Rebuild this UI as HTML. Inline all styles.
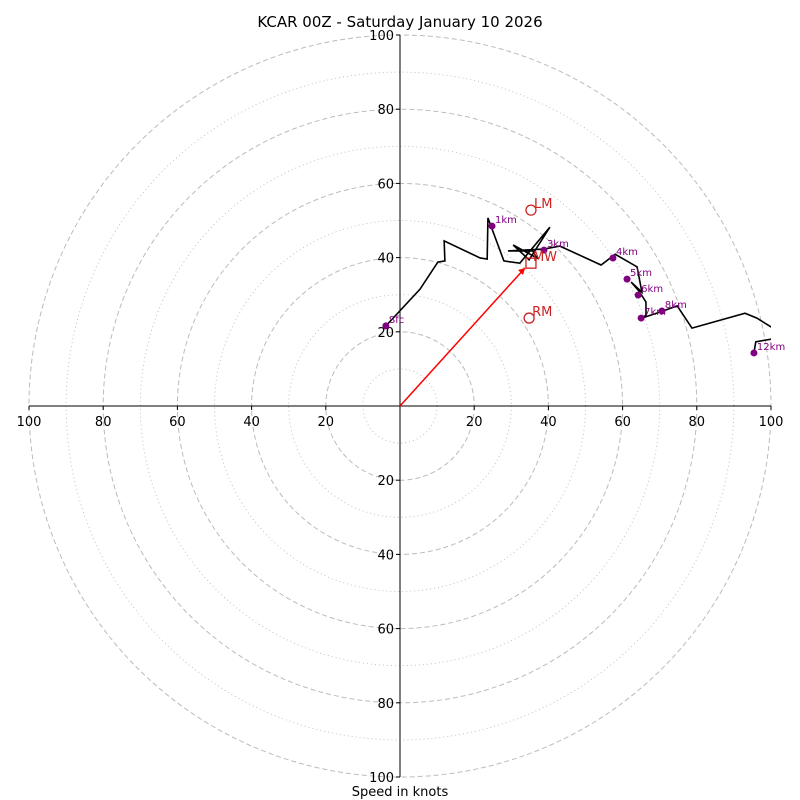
<!DOCTYPE html>
<html><head><meta charset="utf-8"><style>
html,body{margin:0;padding:0;background:#fff}
svg{display:block;font-family:"DejaVu Sans","Liberation Sans",sans-serif}
</style></head><body>
<svg id="c" width="800" height="800" viewBox="0 0 800 800">
<text x="400" y="27" text-anchor="middle" font-size="15">KCAR 00Z - Saturday January 10 2026</text>
<text x="400" y="796" text-anchor="middle" font-size="13">Speed in knots</text>
<defs><clipPath id="clip"><rect x="29" y="35" width="742" height="742"/></clipPath></defs>
<g id="rings"></g><g id="axes"></g><g id="plot" clip-path="url(#clip)"></g><g id="labels"></g>
</svg>
<script>
const ringSpeeds=[10,20,30,40,50,60,70,80,90,100];
const tickValues=[-100,-80,-60,-40,-20,20,40,60,80,100];
const traceU=[-3.8,5.4,10.2,12.1,11.9,21.6,23.5,23.7,28.0,32.3,40.4,34.8,30.5,36.9,35.8,29.1,38.8,43.1,54.2,58.0,63.9,65.2,62.3,64.4,66.3,66.3,65.2,70.9,74.7,78.7,93.0,96.2,100.5,102];
const traceV=[21.6,31.5,38.8,39.1,44.5,39.9,39.6,50.7,39.1,38.5,48.2,39.4,43.4,39.9,41.8,41.8,42.3,43.1,38.0,40.9,37.5,30.7,33.4,31.0,28.0,24.5,23.7,25.6,27.0,21.0,25.0,23.7,21.0,20];
const upperU=[102,100.5,95.9,95.4];
const upperV=[18.6,18.1,17.3,14.3];
const markerLabels=["Sfc","1km","3km","4km","5km","6km","7km","8km","12km"];
const markerU=[-3.8,24.8,38.8,57.4,61.2,64.2,65.0,70.6,95.4];
const markerV=[21.6,48.5,42.0,39.9,34.2,29.9,23.7,25.6,14.3];
const lmU=35.3, lmV=52.8, rmU=34.8, rmV=23.7, mwU=35.3, mwV=38.5, stormU=33.7, stormV=37.2;

const cx=400, cy=406, k=3.71;
const X=u=>cx+u*k, Y=v=>cy-v*k;
const NS="http://www.w3.org/2000/svg";
function mk(tag,attrs,parent){const e=document.createElementNS(NS,tag);for(const a in attrs)e.setAttribute(a,attrs[a]);document.getElementById(parent).appendChild(e);return e;}

ringSpeeds.forEach(s=>{
  const e=mk('circle',{cx:cx,cy:cy,r:s*k,fill:'none',stroke:'#bbb','stroke-width':s%20===0?1:0.9,'stroke-dasharray':s%20===0?'5,3':'1,3'},'rings');
  
  
});
let ax=mk('line',{x1:X(-100),y1:cy,x2:X(100),y2:cy,stroke:'#000','stroke-width':1},'axes');


let ay=mk('line',{x1:cx,y1:Y(100),x2:cx,y2:Y(-100),stroke:'#000','stroke-width':1},'axes');


tickValues.forEach(t=>{
  let l=mk('line',{x1:X(t),y1:cy,x2:X(t),y2:cy+4,stroke:'#000'},'axes');
  
  
  let tx=mk('text',{x:X(t),y:cy+20,'text-anchor':'middle','font-size':13},'axes');
  tx.textContent=Math.abs(t);
  
  
  let l2=mk('line',{x1:cx-4,y1:Y(t),x2:cx,y2:Y(t),stroke:'#000'},'axes');
  
  
  let ty=mk('text',{x:cx-6,y:Y(t)+5,'text-anchor':'end','font-size':13},'axes');
  ty.textContent=Math.abs(t);
  
  
});
let pts=traceU.map((u,i)=>X(u)+','+Y(traceV[i])).join(' ');
let tr=mk('polyline',{points:pts,fill:'none',stroke:'#000','stroke-width':1.6},'plot');


let pts2=upperU.map((u,i)=>X(u)+','+Y(upperV[i])).join(' ');
let tr2=mk('polyline',{points:pts2,fill:'none',stroke:'#000','stroke-width':1.6},'plot');


let ar=mk('line',{x1:X(0),y1:Y(0),x2:X(stormU),y2:Y(stormV),stroke:'red','stroke-width':1.5},'plot');


let ah=mk('polygon',{points:`${X(stormU)},${Y(stormV)} ${X(stormU)-7},${Y(stormV)+2} ${X(stormU)-2},${Y(stormV)+7}`,fill:'red'},'plot');


markerU.forEach((u,i)=>{
  let c=mk('circle',{cx:X(u),cy:Y(markerV[i]),r:3.5,fill:'purple'},'labels');
  
  
  let t=mk('text',{x:X(u)+3,y:Y(markerV[i])-3,'font-size':10,fill:'purple'},'labels');
  t.textContent=markerLabels[i];
  
  
});
[[lmU,lmV,'LM'],[rmU,rmV,'RM']].forEach(p=>{
  let c=mk('circle',{cx:X(p[0]),cy:Y(p[1]),r:5,fill:'none',stroke:'#c22','stroke-width':1.3},'labels');
  
  
  let t=mk('text',{x:X(p[0])+3,y:Y(p[1])-2,'font-size':13,fill:'#c22'},'labels');
  t.textContent=p[2];
  
  
});
let sq=mk('rect',{x:X(mwU)-5,y:Y(mwV)-5,width:10,height:10,fill:'none',stroke:'#c22','stroke-width':1.3},'labels');


let mt=mk('text',{x:X(mwU)+2,y:Y(mwV)-2,'font-size':13,fill:'#c22'},'labels');
mt.textContent='MW';


</script>
</body></html>
